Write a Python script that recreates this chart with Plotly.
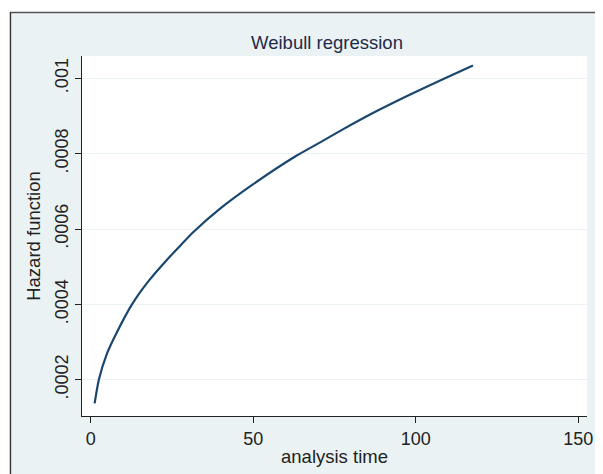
import plotly.graph_objects as go

# Data
analysis_time = [1.2, 2.5, 5.0, 7.6, 12.7, 17.9, 23.0, 27.9, 31.6, 39.8, 50.0,
                 63.4, 70.6, 77.7, 88.0, 98.3, 108.5, 117.6]
hazard = [0.000137, 0.000200, 0.000269, 0.000318, 0.000400, 0.000463, 0.000514,
          0.000559, 0.000592, 0.000654, 0.000719, 0.000795, 0.000830, 0.000865,
          0.000913, 0.000957, 0.000998, 0.001034]

x_tick_vals = [0, 50, 100, 150]
x_tick_text = ["0", "50", "100", "150"]
y_tick_vals = [0.0002, 0.0004, 0.0006, 0.0008, 0.001]
y_tick_text = [".0002", ".0004", ".0006", ".0008", ".001"]

BG = "#EAF2F3"
FONT = "Liberation Sans, Arial, sans-serif"

fig = go.Figure()
fig.add_trace(go.Scatter(
    x=analysis_time, y=hazard, mode="lines",
    line=dict(color="#1A476F", width=2.2, shape="spline", smoothing=0.6),
    showlegend=False, hoverinfo="skip",
))

# page body has an 8px margin; figure coordinates = page coordinates - 8
W, H = 603, 474
L, T = 74, 48
pw, ph = 504.7, 360
R, B = W - L - pw, H - T - ph

def px_x(p):
    return (p - L) / pw

def px_y(p):
    return (T + ph - p) / ph

shapes = [
    dict(type="rect", xref="paper", yref="paper", x0=px_x(-2), x1=px_x(W + 2),
         y0=px_y(4), y1=px_y(-2), fillcolor="white", line=dict(width=0), layer="below"),
    dict(type="rect", xref="paper", yref="paper", x0=px_x(-2), x1=px_x(2),
         y0=px_y(H + 2), y1=px_y(-2), fillcolor="white", line=dict(width=0), layer="below"),
    dict(type="line", xref="paper", yref="paper", x0=px_x(2), x1=px_x(W + 2),
         y0=px_y(4.5), y1=px_y(4.5), line=dict(color="#555555", width=1.6)),
    dict(type="line", xref="paper", yref="paper", x0=px_x(2.5), x1=px_x(2.5),
         y0=px_y(4), y1=px_y(H + 2), line=dict(color="#333333", width=1.4)),
]

fig.update_layout(
    width=W, height=H,
    margin=dict(l=L, r=R, t=T, b=B, pad=0, autoexpand=False),
    paper_bgcolor=BG, plot_bgcolor="white",
    font=dict(family=FONT, size=18, color="#222222"),
    title=dict(text="Weibull regression", x=319 / W, xanchor="center",
               y=1 - 35 / H, yanchor="middle", automargin=False,
               font=dict(family=FONT, size=18.5, color="#1E2A4A")),
    shapes=shapes,
    xaxis=dict(
        automargin=False,
        range=[-2.678, 152.68], tickvals=x_tick_vals, ticktext=x_tick_text,
        showgrid=False, zeroline=False, showline=True, linecolor="#222222", linewidth=1,
        ticks="outside", ticklen=6, tickcolor="#222222", tickwidth=1,
        tickfont=dict(family=FONT, size=18, color="#222222"),
        title=dict(text="analysis time", font=dict(family=FONT, size=18.5, color="#222222"),
                   standoff=2),
    ),
    yaxis=dict(
        automargin=False,
        range=[0.00010365, 0.0010592], tickvals=y_tick_vals, ticktext=y_tick_text,
        tickangle=-90,
        showgrid=True, gridcolor=BG, gridwidth=1.2,
        zeroline=False, showline=True, linecolor="#222222", linewidth=1,
        ticks="outside", ticklen=6, tickcolor="#222222", tickwidth=1,
        tickfont=dict(family=FONT, size=18, color="#222222"),
        title=dict(text="Hazard function", font=dict(family=FONT, size=18.5, color="#222222"),
                   standoff=6),
    ),
)

fig.write_html(
    "out.html",
    post_script="document.documentElement.style.overflow='hidden';"
                "document.body.style.overflow='hidden';",
)
